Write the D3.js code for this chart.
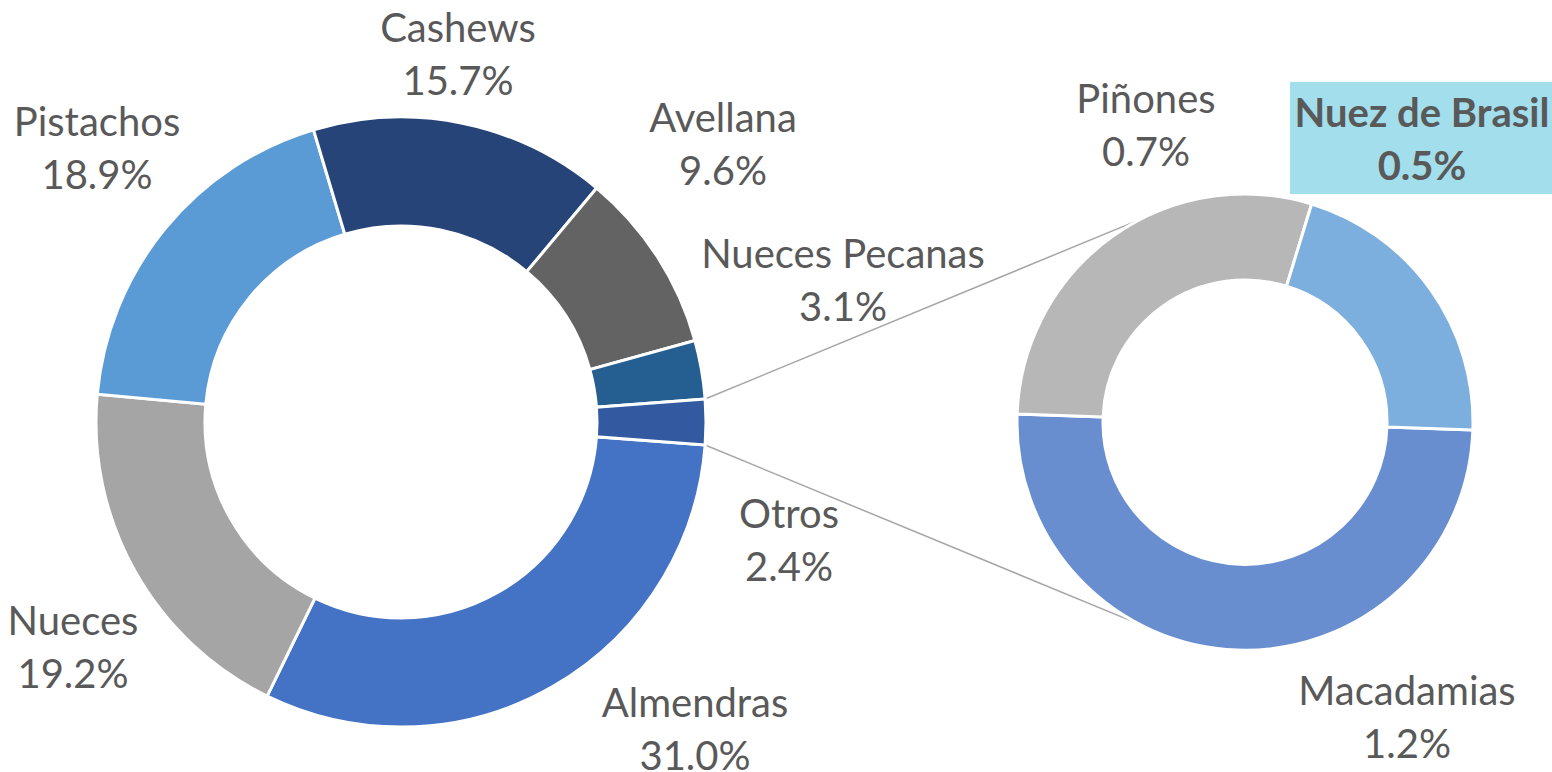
<!DOCTYPE html>
<html>
<head>
<meta charset="utf-8">
<script src="https://cdn.jsdelivr.net/npm/d3@7"></script>
<style>
  body { margin: 0; background: #fff; }
  svg { display: block; }
  .lbl { font-family: Lato, 'Open Sans', sans-serif; font-size: 40px; fill: #595959; }
  .lbl.hl { font-weight: bold; }
  .connector { stroke: #a6a6a6; stroke-width: 1.5; fill: none; }
</style>
</head>
<body>
<svg width="1552" height="772"></svg>
<script>
// main doughnut (the last one, Otros, is split into the second doughnut)
const mainNames = ['Almendras', 'Nueces', 'Pistachos', 'Cashews', 'Avellana', 'Nueces Pecanas', 'Otros'];
const mainValues = [31.0, 19.2, 18.9, 15.7, 9.6, 3.1, 2.4];
const mainColors = ['#4472c4', '#a5a5a5', '#5b9bd5', '#264478', '#636363', '#255e91', '#335aa0'];

// breakdown of Otros
const subNames = ['Macadamias', 'Piñones', 'Nuez de Brasil'];
const subValues = [1.2, 0.7, 0.5];
const subColors = ['#698ed0', '#b7b7b7', '#7cafdd'];
const highlighted = 'Nuez de Brasil';

// layout
const main = { cx: 401, cy: 422, outer: 305, inner: 196 };
const sub = { cx: 1245, cy: 422, outer: 228, inner: 142, start: 92 };
const connectorEnds = [-27, 207]; // degrees on the second doughnut
const lineGap = 53;
// first-line baseline of each label
const labelAt = {
  'Almendras': [695, 717],
  'Nueces': [73, 635],
  'Pistachos': [97, 136],
  'Cashews': [458, 42],
  'Avellana': [723, 132],
  'Nueces Pecanas': [843, 268],
  'Otros': [789, 528],
  'Macadamias': [1407, 705],
  'Piñones': [1146, 113],
  'Nuez de Brasil': [1422, 127]
};

const rad = (deg) => deg * Math.PI / 180;
const svg = d3.select('svg');

const mainData = mainNames.map((n, i) => ({ name: n, value: mainValues[i], color: mainColors[i] }));
const subData = subNames.map((n, i) => ({ name: n, value: subValues[i], color: subColors[i] }));

// centre the split slice on 3 o'clock
const total = d3.sum(mainValues);
const otrosSpan = 2 * Math.PI * mainValues[mainValues.length - 1] / total;
const mainStart = Math.PI / 2 + otrosSpan / 2;

const mainPie = d3.pie().sort(null).value((d) => d.value)
  .startAngle(mainStart).endAngle(mainStart + 2 * Math.PI);
const subPie = d3.pie().sort(null).value((d) => d.value)
  .startAngle(rad(sub.start)).endAngle(rad(sub.start) + 2 * Math.PI);

const mainArcs = mainPie(mainData);
const subArcs = subPie(subData);

// connector lines, drawn under both doughnuts
const otros = mainArcs[mainArcs.length - 1];
const onCircle = (c, r, a) => [c.cx + r * Math.sin(a), c.cy - r * Math.cos(a)];
const links = [
  [onCircle(main, main.outer, otros.startAngle), onCircle(sub, sub.outer, rad(connectorEnds[0]))],
  [onCircle(main, main.outer, otros.endAngle), onCircle(sub, sub.outer, rad(connectorEnds[1]))]
];
svg.append('g').selectAll('line')
  .data(links)
  .enter()
  .append('line')
  .attr('class', 'connector')
  .attr('x1', (d) => d[0][0])
  .attr('y1', (d) => d[0][1])
  .attr('x2', (d) => d[1][0])
  .attr('y2', (d) => d[1][1]);

const mainArc = d3.arc().innerRadius(main.inner).outerRadius(main.outer);
const subArc = d3.arc().innerRadius(sub.inner).outerRadius(sub.outer);

svg.append('g')
  .attr('transform', `translate(${main.cx}, ${main.cy})`)
  .selectAll('path')
  .data(mainArcs)
  .enter()
  .append('path')
  .attr('d', mainArc)
  .attr('fill', (d) => d.data.color)
  .attr('stroke', '#fff')
  .attr('stroke-width', 3);

svg.append('g')
  .attr('transform', `translate(${sub.cx}, ${sub.cy})`)
  .selectAll('path')
  .data(subArcs)
  .enter()
  .append('path')
  .attr('d', subArc)
  .attr('fill', (d) => d.data.color)
  .attr('stroke', '#fff')
  .attr('stroke-width', 3);

// highlight box behind Nuez de Brasil
const hp = labelAt[highlighted];
svg.append('rect')
  .attr('x', hp[0] - 132)
  .attr('y', hp[1] - 45)
  .attr('width', 264)
  .attr('height', 112)
  .attr('fill', '#a2deeb');

// data labels
const labelData = mainArcs.map((d) => d.data).concat(subArcs.map((d) => d.data));
const labels = svg.append('g').selectAll('text')
  .data(labelData)
  .enter()
  .append('text')
  .attr('class', (d) => d.name === highlighted ? 'lbl hl' : 'lbl')
  .attr('text-anchor', 'middle');

labels.append('tspan')
  .attr('x', (d) => labelAt[d.name][0])
  .attr('y', (d) => labelAt[d.name][1])
  .text((d) => d.name);

labels.append('tspan')
  .attr('x', (d) => labelAt[d.name][0])
  .attr('y', (d) => labelAt[d.name][1] + lineGap)
  .text((d) => `${d.value.toFixed(1)}%`);
</script>
</body>
</html>
